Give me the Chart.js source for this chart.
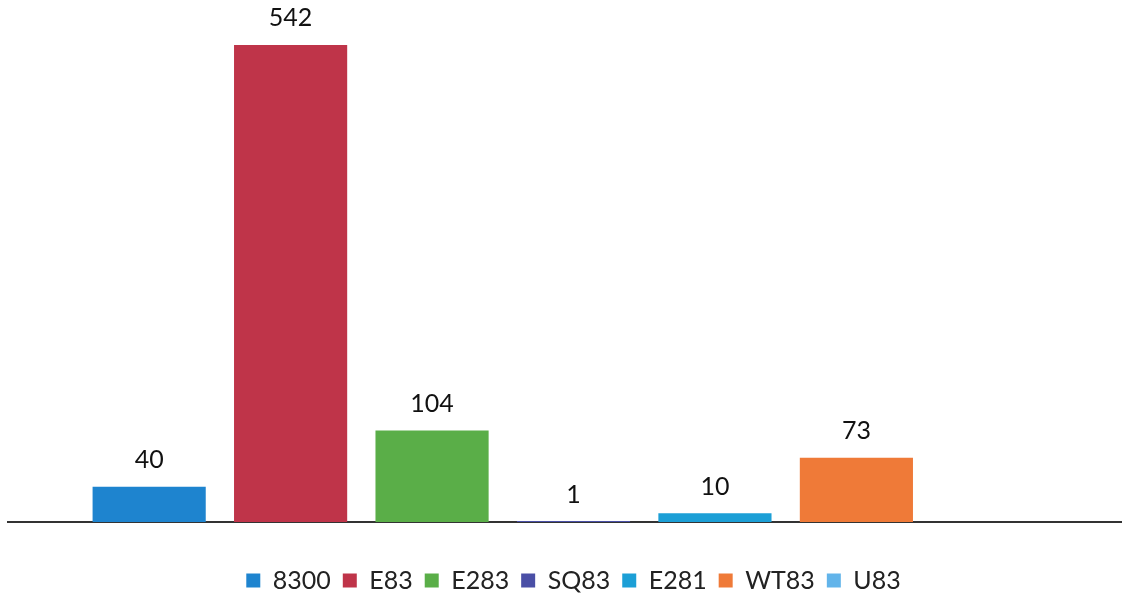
<!DOCTYPE html>
<html><head><meta charset="utf-8">
<script src="https://cdn.jsdelivr.net/npm/chart.js@4"></script>
<style>html,body{margin:0;padding:0;background:#fff}#wrap{width:1134px;height:598px}</style>
</head><body><div id="wrap"><canvas id="c" width="1134" height="598"></canvas></div>
<script>
const categories = [""];
const seriesNames = ["8300", "E83", "E283", "SQ83", "E281", "WT83", "U83"];
const seriesValues = [40, 542, 104, 1, 10, 73, null];
const seriesColors = ["#1e84cf", "#bf3449", "#5aae48", "#4a4fa6", "#1c9fd6", "#ef7a38", "#62b4ea"];

const labelPlugin = {
  id: "valLabels",
  beforeDatasetsDraw(chart) {
    const ctx = chart.ctx;
    const y = chart.chartArea.bottom;
    ctx.save();
    ctx.strokeStyle = "#333";
    ctx.lineWidth = 2;
    ctx.beginPath();
    ctx.moveTo(7, y);
    ctx.lineTo(1122, y);
    ctx.stroke();
    ctx.restore();
  },
  afterDatasetsDraw(chart) {
    const ctx = chart.ctx;
    ctx.save();
    ctx.font = "25px Lato, 'Open Sans', sans-serif";
    ctx.fillStyle = "#111";
    ctx.textAlign = "center";
    ctx.textBaseline = "bottom";
    chart.data.datasets.forEach((ds, i) => {
      const meta = chart.getDatasetMeta(i);
      meta.data.forEach((bar, j) => {
        const v = ds.data[j];
        if (v === null || v === undefined) return;
        ctx.fillText(String(v), bar.x, bar.y - 14);
      });
    });
    ctx.restore();
  }
};

new Chart(document.getElementById("c"), {
  type: "bar",
  data: {
    labels: categories,
    datasets: seriesNames.map((n, i) => ({
      label: n,
      data: [seriesValues[i]],
      backgroundColor: seriesColors[i],
      borderWidth: 0
    }))
  },
  options: {
    responsive: false,
    animation: false,
    layout: { padding: { left: 16, right: 3, top: 0, bottom: -5 } },
    datasets: { bar: { categoryPercentage: 0.888, barPercentage: 0.8 } },
    scales: {
      x: {
        grid: { display: false },
        ticks: { display: false },
        border: { display: false },
        afterFit(scale) { scale.height = 34; }
      },
      y: {
        display: false,
        min: 0,
        max: 593
      }
    },
    plugins: {
      legend: {
        position: "bottom",
        labels: {
          boxWidth: 14, boxHeight: 14, padding: 12,
          color: "#222",
          font: { size: 25, family: "Lato, 'Open Sans', sans-serif" }
        }
      },
      tooltip: { enabled: false }
    }
  },
  plugins: [labelPlugin]
});
</script></body></html>
